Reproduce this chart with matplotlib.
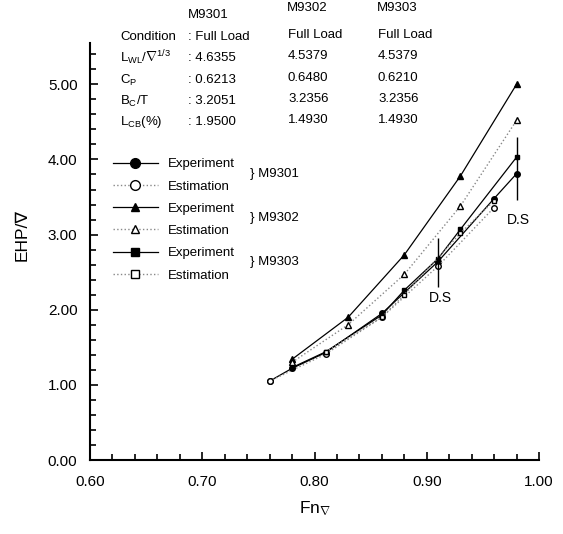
import numpy as np
import matplotlib
matplotlib.use("Agg")
import matplotlib.pyplot as plt
from matplotlib.lines import Line2D
from matplotlib.ticker import MultipleLocator

plt.rcParams['font.family'] = ['Liberation Sans', 'DejaVu Sans']
plt.rcParams['mathtext.fontset'] = 'custom'
plt.rcParams['mathtext.rm'] = 'Liberation Sans'
plt.rcParams['mathtext.it'] = 'Liberation Sans'

# data
fn_m9301_exp = [0.76, 0.78, 0.81, 0.86, 0.91, 0.96, 0.98]
ehp_m9301_exp = [1.05, 1.22, 1.43, 1.95, 2.64, 3.48, 3.81]
fn_m9301_est = [0.76, 0.81, 0.86, 0.91, 0.96]
ehp_m9301_est = [1.05, 1.41, 1.90, 2.58, 3.36]

fn_m9302_exp = [0.78, 0.83, 0.88, 0.93, 0.98]
ehp_m9302_exp = [1.34, 1.90, 2.73, 3.78, 5.00]
fn_m9302_est = [0.78, 0.83, 0.88, 0.93, 0.98]
ehp_m9302_est = [1.30, 1.80, 2.47, 3.38, 4.52]

fn_m9303_exp = [0.78, 0.81, 0.86, 0.88, 0.91, 0.93, 0.98]
ehp_m9303_exp = [1.23, 1.44, 1.93, 2.26, 2.68, 3.07, 4.03]
fn_m9303_est = [0.81, 0.86, 0.88, 0.93, 0.96]
ehp_m9303_est = [1.44, 1.90, 2.20, 3.02, 3.45]

# design speed markers
ds_fn = [0.91, 0.98]
ds_low = [2.30, 3.46]
ds_high = [2.95, 4.30]

# particulars table
row_labels = ['Condition', r'L$_{\mathrm{WL}}/\nabla^{1/3}$', r'C$_{\mathrm{P}}$',
              r'B$_{\mathrm{C}}$/T', r'L$_{\mathrm{CB}}$(%)']
ships = ['M9301', 'M9302', 'M9303']
m9301_vals = ['Full Load', '4.6355', '0.6213', '3.2051', '1.9500']
m9302_vals = ['Full Load', '4.5379', '0.6480', '3.2356', '1.4930']
m9303_vals = ['Full Load', '4.5379', '0.6210', '3.2356', '1.4930']

W, H = 563, 534
fig = plt.figure(figsize=(W / 100, H / 100), dpi=100)
ax = fig.add_axes([90 / W, 74 / H, 449 / W, 417 / H])


def px(x, y):
    return x / W, 1 - y / H


ms = 4
ax.plot(fn_m9301_exp, ehp_m9301_exp, '-', color='black', lw=0.9, marker='o', ms=ms)
ax.plot(fn_m9301_est, ehp_m9301_est, ':', color='#888888', lw=1.0, marker='o', ms=ms,
        mfc='white', mec='black')
ax.plot(fn_m9302_exp, ehp_m9302_exp, '-', color='black', lw=0.9, marker='^', ms=ms)
ax.plot(fn_m9302_est, ehp_m9302_est, ':', color='#888888', lw=1.0, marker='^', ms=ms,
        mfc='white', mec='black')
ax.plot(fn_m9303_exp, ehp_m9303_exp, '-', color='black', lw=0.9, marker='s', ms=ms - 0.5)
ax.plot(fn_m9303_est, ehp_m9303_est, ':', color='#888888', lw=1.0, marker='s', ms=ms - 0.5,
        mfc='white', mec='black')

ax.vlines(ds_fn, ds_low, ds_high, color='black', lw=1.0)
ax.text(0.912, 2.15, 'D.S', fontsize=10, ha='center', va='center')
ax.text(0.982, 3.2, 'D.S', fontsize=10, ha='center', va='center')

ax.set_xlim(0.6, 1.0)
ax.set_ylim(0, 5.55)
ax.xaxis.set_major_locator(MultipleLocator(0.1))
ax.xaxis.set_minor_locator(MultipleLocator(0.02))
ax.yaxis.set_major_locator(MultipleLocator(1.0))
ax.yaxis.set_minor_locator(MultipleLocator(0.2))
ax.xaxis.set_major_formatter(lambda v, p: '%.2f' % v)
ax.yaxis.set_major_formatter(lambda v, p: '%.2f' % v)
ax.tick_params(which='both', direction='in', width=1.2, labelsize=11)
ax.tick_params(which='major', length=6)
ax.tick_params(which='minor', length=4)
ax.tick_params(axis='x', pad=11)
ax.tick_params(axis='y', pad=9)
ax.spines['top'].set_visible(False)
ax.spines['right'].set_visible(False)
ax.spines['left'].set_linewidth(1.5)
ax.spines['bottom'].set_linewidth(1.5)

ax.set_xlabel(r'Fn$_{\nabla}$', fontsize=12.5, labelpad=7)
fig.text(*px(22, 235), 'EHP/∇', fontsize=12.5, rotation=90, ha='center', va='center')

# table of particulars
fs = 9.5
fig.text(*px(208, 15), ships[0], fontsize=fs, ha='center', va='center')
fig.text(*px(307, 8), ships[1], fontsize=fs, ha='center', va='center')
fig.text(*px(397, 8), ships[2], fontsize=fs, ha='center', va='center')
row_y = [37, 58, 80, 101, 122]
for i, y in enumerate(row_y):
    fig.text(*px(120, y), row_labels[i], fontsize=fs, ha='left', va='center')
    fig.text(*px(188, y), ': ' + m9301_vals[i], fontsize=fs, ha='left', va='center')
    fig.text(*px(288, y - 2), m9302_vals[i], fontsize=fs, ha='left', va='center')
    fig.text(*px(378, y - 2), m9303_vals[i], fontsize=fs, ha='left', va='center')

# legend
handles = [
    Line2D([], [], ls='-', color='black', lw=0.9, marker='o', ms=7),
    Line2D([], [], ls=':', color='#888888', lw=1.0, marker='o', ms=7, mfc='white', mec='black'),
    Line2D([], [], ls='-', color='black', lw=0.9, marker='^', ms=6),
    Line2D([], [], ls=':', color='#888888', lw=1.0, marker='^', ms=6, mfc='white', mec='black'),
    Line2D([], [], ls='-', color='black', lw=0.9, marker='s', ms=6),
    Line2D([], [], ls=':', color='#888888', lw=1.0, marker='s', ms=6, mfc='white', mec='black'),
]
labels = ['Experiment', 'Estimation'] * 3
fig.legend(handles, labels, loc='upper left', bbox_to_anchor=px(113, 158),
           frameon=False, fontsize=fs, handlelength=3.4, handletextpad=0.75,
           labelspacing=0.76, borderpad=0, borderaxespad=0)
for name, y in zip(ships, [174, 218, 262]):
    fig.text(*px(250, y), '} ' + name, fontsize=fs, ha='left', va='center')

fig.savefig('out.png', dpi=100)
